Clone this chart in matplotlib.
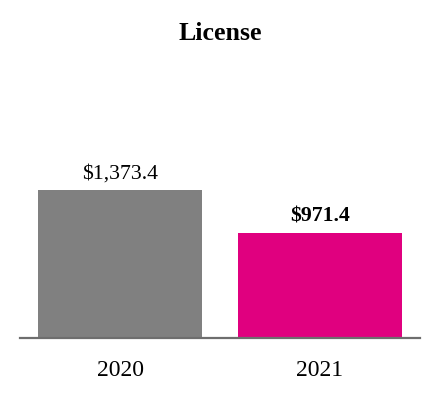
import matplotlib.pyplot as plt

annees = ["2020", "2021"]
valeurs = [1373.4, 971.4]
etiquettes = ["$1,373.4", "$971.4"]
couleurs = ["#808080", "#E0007F"]
gras = ["normal", "bold"]

plt.rcParams['font.family'] = ['Liberation Serif', 'DejaVu Serif']

fig = plt.figure(figsize=(4.4, 4.0), dpi=100)
ax = fig.add_axes([20 / 440, 62 / 400, 400 / 440, 278 / 400])

x = range(len(annees))
barres = ax.bar(x, valeurs, width=0.82, color=couleurs)

for b, lab, w in zip(barres, etiquettes, gras):
    ax.annotate(lab, (b.get_x() + b.get_width() / 2, b.get_height()),
                xytext=(0, 8.6), textcoords='offset points',
                ha='center', va='baseline', fontsize=15.7, fontweight=w)

ax.set_xlim(-0.5, 1.5)
ax.set_ylim(0, 1373.4 * 278 / 148)
ax.set_xticks(list(x))
ax.set_xticklabels(annees, fontsize=17)
ax.tick_params(axis='x', length=0, pad=15.5)
ax.set_yticks([])
for s in ['top', 'right', 'left']:
    ax.spines[s].set_visible(False)
ax.spines['bottom'].set_color('#6e6e6e')
ax.spines['bottom'].set_linewidth(1.6)

fig.text(0.5, 1 - 40 / 400, "License", ha='center', va='baseline',
         fontsize=18.6, fontweight='bold')

fig.savefig("out.png", dpi=100)
